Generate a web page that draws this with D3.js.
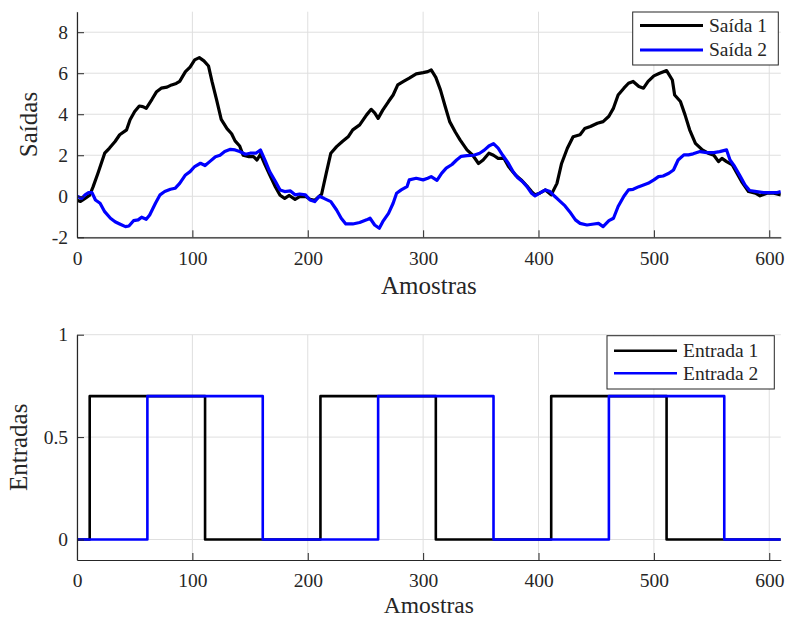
<!DOCTYPE html>
<html>
<head>
<meta charset="utf-8">
<script src="https://cdn.jsdelivr.net/npm/d3@7"></script>
<style>
  html, body { margin: 0; padding: 0; background: #fff; }
  svg { display: block; }
  text { font-family: "Liberation Serif", "Times New Roman", serif; fill: #262626; }
</style>
</head>
<body>
<svg id="chart" width="787" height="618"></svg>
<script>
// Samples (x) and outputs of the two channels
const amostrasSaida1 = [0,3,7,11,14,18,21,24,28,33,37,43,46,50,54,57,60,65,69,73,78,82,86,89,94,98,102,106,110,114,117,121,125,130,134,137,141,144,149,153,156,159,163,167,172,176,180,184,189,193,198,202,206,210,212,216,220,225,230,235,239,245,251,255,258,261,265,270,274,278,283,288,294,300,304,307,311,315,319,323,328,332,338,343,348,352,357,361,365,370,374,380,385,390,394,397,401,406,411,416,420,425,430,436,440,445,451,456,461,465,469,474,478,482,487,491,495,500,505,511,516,518,523,527,531,536,542,547,552,556,559,563,568,572,576,582,588,592,598,604,610];
const saida1 = [-0.2,-0.25,-0.1,0.05,0.47,1.1,1.6,2.1,2.34,2.67,3.0,3.24,3.73,4.13,4.4,4.37,4.29,4.73,5.1,5.27,5.32,5.43,5.5,5.6,6.08,6.3,6.65,6.76,6.6,6.35,5.6,4.7,3.75,3.3,3.05,2.7,2.45,2.0,1.93,1.93,1.77,2.05,1.53,1.05,0.45,0.05,-0.1,0.04,-0.15,-0.02,0,-0.15,-0.2,0.0,0.1,1.12,2.1,2.42,2.67,2.9,3.24,3.48,3.97,4.24,4.07,3.8,4.2,4.62,4.94,5.43,5.6,5.76,5.97,6.03,6.08,6.16,5.8,5.19,4.4,3.64,3.12,2.75,2.26,2.0,1.6,1.77,2.1,2.0,1.85,1.85,1.45,1.04,0.8,0.5,0.23,0.07,0.15,0.31,0.07,0.63,1.6,2.34,2.9,3.0,3.3,3.4,3.56,3.64,3.9,4.3,4.94,5.27,5.51,5.6,5.35,5.27,5.6,5.87,6.0,6.13,5.67,4.94,4.62,3.97,3.24,2.58,2.26,2.1,2.0,1.69,1.85,1.69,1.53,1.12,0.72,0.23,0.15,0.02,0.15,0.15,0.07];

const amostrasSaida2 = [0,4,7,10,13,16,20,24,29,33,37,42,45,49,53,56,60,63,68,72,76,81,85,89,94,98,102,107,111,115,120,124,128,133,137,141,146,150,155,159,163,167,172,176,180,185,189,193,198,202,206,210,214,220,225,229,233,239,245,251,254,258,262,265,270,274,277,281,286,288,294,300,304,307,312,316,320,325,329,333,338,344,349,353,357,361,365,369,374,378,382,386,390,394,397,401,406,410,414,419,423,427,432,436,442,448,452,456,461,465,469,474,478,482,487,491,495,500,504,508,513,517,521,526,530,534,540,546,552,557,563,566,570,575,579,583,589,595,601,607,610];
const saida2 = [0,-0.1,0.07,0.18,0.18,-0.18,-0.34,-0.75,-1.07,-1.24,-1.35,-1.48,-1.45,-1.19,-1.15,-1.02,-1.12,-0.91,-0.34,0.07,0.23,0.34,0.39,0.63,1.04,1.2,1.45,1.61,1.5,1.69,1.93,2.0,2.18,2.29,2.26,2.18,2.05,2.1,2.1,2.26,1.75,1.2,0.72,0.31,0.23,0.26,0.07,0.11,0.07,-0.18,-0.26,0,-0.1,-0.26,-0.67,-1.07,-1.35,-1.35,-1.28,-1.15,-1.07,-1.4,-1.56,-1.24,-0.83,-0.34,0.15,0.31,0.47,0.8,0.88,0.8,0.88,0.96,0.78,1.12,1.37,1.55,1.77,1.95,1.98,2.0,2.1,2.25,2.45,2.57,2.35,2.0,1.6,1.2,0.9,0.72,0.47,0.15,0.02,0.15,0.31,0.23,0,-0.26,-0.47,-0.75,-1.15,-1.32,-1.4,-1.35,-1.32,-1.48,-1.19,-1.07,-0.5,0,0.31,0.34,0.47,0.55,0.63,0.8,0.96,0.99,1.12,1.28,1.77,2.02,2.02,2.07,2.18,2.13,2.13,2.18,2.26,1.77,1.45,0.96,0.55,0.28,0.23,0.18,0.18,0.18,0.23];

// Step inputs: sample where each level starts
const amostrasEntrada1 = [0, 11, 111, 211, 311, 411, 511, 610];
const entrada1 = [0, 0.7, 0, 0.7, 0, 0.7, 0, 0];
const amostrasEntrada2 = [0, 61, 161, 261, 361, 461, 561, 610];
const entrada2 = [0, 0.7, 0, 0.7, 0, 0.7, 0, 0];

// Axis ticks and labels
const xTicks = [0, 100, 200, 300, 400, 500, 600];
const saidasTicks = [-2, 0, 2, 4, 6, 8];
const entradasTicks = [0, 0.5, 1];
const saidasLegend = ["Saída 1", "Saída 2"];
const entradasLegend = ["Entrada 1", "Entrada 2"];
const seriesColors = ["#000000", "#0000ff"];

const svg = d3.select("#chart");
const axisColor = "#262626";
const gridColor = "#dfdfdf";

function panel(opts) {
  const { top, bottom, xDomain, yDomain, yTicks, yLabel, yLabelX, xLabelY, xTickY, labelSize, series, legend, legendBox, curve, lineWidth } = opts;
  const x = d3.scaleLinear().domain(xDomain).range([77, 780.8]);
  const y = d3.scaleLinear().domain(yDomain).range([bottom, top]);
  const g = svg.append("g");

  // grid
  g.append("g").selectAll("line").data(xTicks).join("line")
    .attr("x1", d => x(d)).attr("x2", d => x(d))
    .attr("y1", top).attr("y2", bottom)
    .attr("stroke", gridColor).attr("stroke-width", 1);
  g.append("g").selectAll("line").data(yTicks).join("line")
    .attr("x1", x.range()[0]).attr("x2", x.range()[1])
    .attr("y1", d => y(d)).attr("y2", d => y(d))
    .attr("stroke", gridColor).attr("stroke-width", 1);

  // data lines
  const clipId = "clip" + Math.round(top);
  svg.append("clipPath").attr("id", clipId).append("rect")
    .attr("x", x.range()[0]).attr("y", top - 4)
    .attr("width", x.range()[1] - x.range()[0]).attr("height", bottom - top + 4);
  const line = d3.line().x(d => x(d[0])).y(d => y(d[1])).curve(curve);
  series.forEach((s, i) => {
    const pts = s.xs.map((v, k) => [v, s.ys[k]]);
    g.append("path").datum(pts)
      .attr("clip-path", `url(#${clipId})`)
      .attr("d", line)
      .attr("fill", "none")
      .attr("stroke", seriesColors[i])
      .attr("stroke-width", lineWidth)
      .attr("stroke-linejoin", "round");
  });

  // axes (inward ticks, left and bottom only); plain hyphen for negatives
  const plain = d => String(d);
  const xAxis = d3.axisBottom(x).tickValues(xTicks).tickSizeInner(-7).tickSizeOuter(0).tickFormat(plain);
  const yAxis = d3.axisLeft(y).tickValues(yTicks).tickSizeInner(-7).tickSizeOuter(0).tickFormat(plain);
  const gx = g.append("g").attr("transform", `translate(0,${bottom})`).call(xAxis);
  const gy = g.append("g").attr("transform", `translate(${x.range()[0]},0)`).call(yAxis);
  [gx, gy].forEach(a => {
    a.select(".domain").attr("stroke", axisColor).attr("stroke-width", 1.2);
    a.selectAll(".tick line").attr("stroke", axisColor).attr("stroke-width", 1);
    a.selectAll(".tick text").attr("fill", axisColor).style("font-size", "19.5px")
      .style("font-family", '"Liberation Serif", serif');
  });
  gx.selectAll(".tick text").attr("dy", null).attr("y", xTickY);
  gy.selectAll(".tick text").attr("x", -9).attr("dy", "0.32em");

  // axis titles
  g.append("text").attr("x", (x.range()[0] + x.range()[1]) / 2).attr("y", xLabelY)
    .attr("text-anchor", "middle").style("font-size", labelSize + "px").text("Amostras");
  g.append("text")
    .attr("transform", `translate(${yLabelX},${(top + bottom) / 2}) rotate(-90)`)
    .attr("text-anchor", "middle").style("font-size", "25px").text(yLabel);

  // legend
  const lg = g.append("g");
  lg.append("rect").attr("x", legendBox.x0).attr("y", legendBox.y0)
    .attr("width", legendBox.x1 - legendBox.x0).attr("height", legendBox.y1 - legendBox.y0)
    .attr("fill", "#fff").attr("stroke", axisColor).attr("stroke-width", 1);
  legend.forEach((name, i) => {
    const ry = legendBox.rows[i];
    lg.append("line").attr("x1", legendBox.l0).attr("x2", legendBox.l1)
      .attr("y1", ry).attr("y2", ry)
      .attr("stroke", seriesColors[i]).attr("stroke-width", lineWidth);
    lg.append("text").attr("x", legendBox.tx).attr("y", ry).attr("dy", "0.33em")
      .style("font-size", "19.5px").text(name);
  });
}

panel({
  top: 11.7, bottom: 237.3, xDomain: [0, 610], yDomain: [-2, 9],
  yTicks: saidasTicks, yLabel: "Saídas", yLabelX: 37, xLabelY: 294, xTickY: 28, labelSize: 25,
  series: [{ xs: amostrasSaida1, ys: saida1 }, { xs: amostrasSaida2, ys: saida2 }],
  legend: saidasLegend,
  legendBox: { x0: 632.7, x1: 778.3, y0: 12, y1: 65, l0: 640, l1: 703, tx: 709, rows: [25.5, 50] },
  curve: d3.curveLinear, lineWidth: 3.2
});

panel({
  top: 334.7, bottom: 560, xDomain: [0, 610], yDomain: [-0.1, 1],
  yTicks: entradasTicks, yLabel: "Entradas", yLabelX: 27, xLabelY: 612.5, xTickY: 26.5, labelSize: 23.5,
  series: [{ xs: amostrasEntrada1, ys: entrada1 }, { xs: amostrasEntrada2, ys: entrada2 }],
  legend: entradasLegend,
  legendBox: { x0: 607, x1: 774.3, y0: 335.7, y1: 389, l0: 614, l1: 677, tx: 683, rows: [350.7, 373.3] },
  curve: d3.curveStepAfter, lineWidth: 2.6
});
</script>
</body>
</html>
